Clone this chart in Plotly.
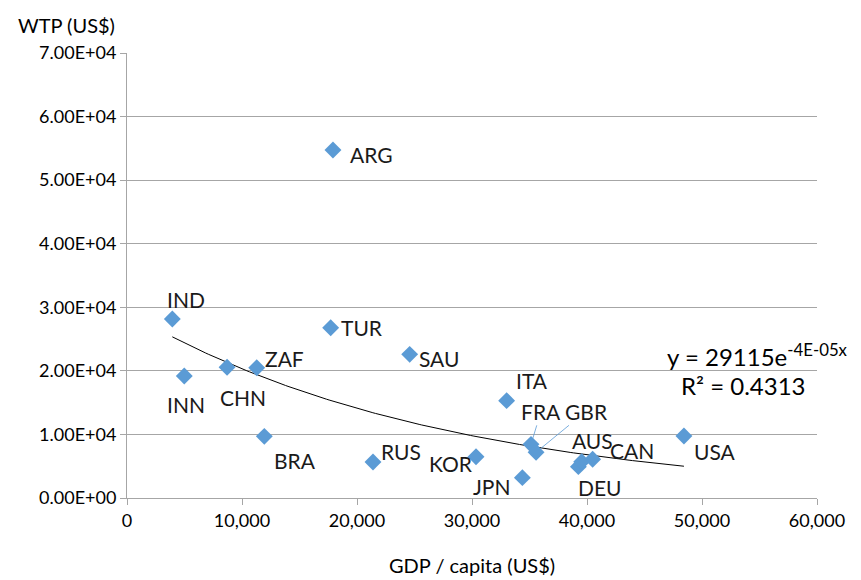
import numpy as np
import plotly.graph_objects as go

# GDP per capita (US$) and willingness to pay (US$) by country
countries = ["IND", "INN", "CHN", "ZAF", "TUR", "SAU", "ARG", "BRA", "RUS",
             "KOR", "JPN", "ITA", "FRA", "GBR", "DEU", "AUS", "CAN", "USA"]
gdp = [3940, 4980, 8700, 11280, 17710, 24580, 17910, 11940, 21390,
       30350, 34380, 33010, 35130, 35570, 39250, 39540, 40490, 48430]
wtp = [28150, 19190, 20560, 20500, 26790, 22600, 54740, 9700, 5660,
       6500, 3200, 15310, 8440, 7190, 4930, 5720, 6090, 9750]

y_tickvals = [0, 10000, 20000, 30000, 40000, 50000, 60000, 70000]
y_ticktext = ["0.00E+00", "1.00E+04", "2.00E+04", "3.00E+04",
              "4.00E+04", "5.00E+04", "6.00E+04", "7.00E+04"]
x_tickvals = [0, 10000, 20000, 30000, 40000, 50000, 60000]

# label offsets in pixels (dx right, dy up) relative to each marker
label_dx = [14, 2, 16, 28, 31, 29, 39, 31, 28, -25, -30, 25, 10, 50, 22, 11, 39, 31]
label_dy = [20, -28, -30, 9, 0, -4, -4, -24, 11, -7, -9, 20, 33, 41, -21, 21, 9, -15]
leader = {"FRA", "GBR"}

FONT = "Lato, 'Open Sans', sans-serif"
BLUE = "#5B9BD5"
LABEL_FONT = dict(family=FONT, size=21, color="#1a1a1a")

# exponential trendline: least squares on ln(WTP)
gx = np.array(gdp, dtype=float)
gy = np.array(wtp, dtype=float)
b, ln_a = np.polyfit(gx, np.log(gy), 1)
trend_x = np.linspace(gx.min(), gx.max(), 200)
trend_y = np.exp(ln_a) * np.exp(b * trend_x)

fig = go.Figure()
fig.add_trace(go.Scatter(
    x=trend_x, y=trend_y, mode="lines",
    line=dict(color="black", width=1), hoverinfo="skip"))
fig.add_trace(go.Scatter(
    x=gdp, y=wtp, mode="markers",
    marker=dict(symbol="diamond", size=13, color=BLUE),
    text=countries))

for c, x, y, dx, dy in zip(countries, gdp, wtp, label_dx, label_dy):
    if c in leader:
        fig.add_annotation(
            x=x, y=y, text=c, showarrow=True, arrowhead=0,
            arrowwidth=0.8, arrowcolor=BLUE, ax=dx, ay=-dy,
            standoff=6, font=LABEL_FONT)
    else:
        fig.add_annotation(
            x=x, y=y, text=c, showarrow=False,
            xshift=dx, yshift=dy, xanchor="center", yanchor="middle",
            font=LABEL_FONT)

fig.add_annotation(
    x=1.048, y=0.321, xref="paper", yref="paper", xanchor="right",
    yanchor="middle", showarrow=False,
    text="y = 29115e<sup>-4E-05x</sup>",
    font=dict(family=FONT, size=24, color="black"))
fig.add_annotation(
    x=0.987, y=0.252, xref="paper", yref="paper", xanchor="right",
    yanchor="middle", showarrow=False, text="R² = 0.4313",
    font=dict(family=FONT, size=24, color="black"))

# axis titles
fig.add_annotation(
    x=-0.087, y=1.063, xref="paper", yref="paper", xanchor="center",
    yanchor="middle", showarrow=False, text="WTP (US$)",
    font=dict(family=FONT, size=20, color="black"))
fig.add_annotation(
    x=0.5, y=-0.151, xref="paper", yref="paper", xanchor="center",
    yanchor="middle", showarrow=False, text="GDP / capita (US$)",
    font=dict(family=FONT, size=20, color="black"))

fig.update_layout(
    width=861, height=580,
    margin=dict(l=127, r=44, t=53, b=82),
    plot_bgcolor="white", paper_bgcolor="white",
    showlegend=False,
    font=dict(family=FONT, size=18, color="black"),
    xaxis=dict(
        range=[0, 60000], tickvals=x_tickvals, tickformat=",",
        showgrid=False, zeroline=False, automargin=False,
        showline=True, linecolor="#a6a6a6", linewidth=1,
        ticks="outside", ticklen=6, tickcolor="#a6a6a6",
        tickfont=dict(family=FONT, size=18)),
    yaxis=dict(
        range=[0, 70000], tickvals=y_tickvals, ticktext=y_ticktext,
        showgrid=True, gridcolor="#a6a6a6", gridwidth=1, zeroline=False,
        automargin=False,
        showline=True, linecolor="#a6a6a6", linewidth=1,
        ticks="outside", ticklen=6, tickcolor="#a6a6a6",
        tickfont=dict(family=FONT, size=18)),
)

fig.write_html("out.html")
